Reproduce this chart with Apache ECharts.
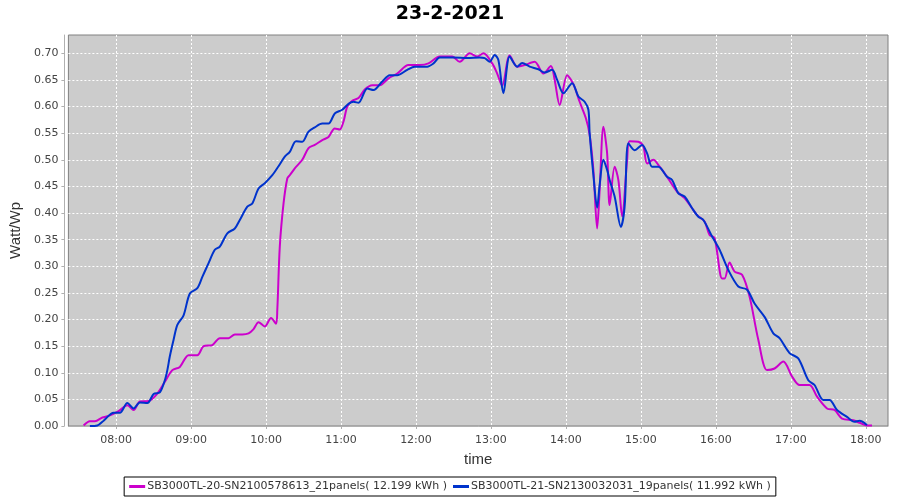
<!DOCTYPE html>
<html>
<head>
<meta charset="utf-8">
<script src="https://cdn.jsdelivr.net/npm/echarts@6/dist/echarts.min.js"></script>
<style>html,body{margin:0;padding:0;background:#fff}#c{width:900px;height:500px}</style>
</head>
<body>
<div id="c"></div>
<script>
const titleText = '23-2-2021';
const seriesNames = ['SB3000TL-20-SN2100578613_21panels( 12.199 kWh )', 'SB3000TL-21-SN2130032031_19panels( 11.992 kWh )'];
const xTickHours = [8, 9, 10, 11, 12, 13, 14, 15, 16, 17, 18];
const yTickValues = [0, 0.05, 0.10, 0.15, 0.20, 0.25, 0.30, 0.35, 0.40, 0.45, 0.50, 0.55, 0.60, 0.65, 0.70];

const timesA = ['7:34','7:39','7:43','7:49','7:54','8:02','8:09','8:14','8:19','8:26','8:33','8:39','8:45','8:51','8:58','9:05','9:10','9:17','9:23','9:30','9:35','9:41','9:46','9:50','9:54','9:59','10:04','10:08','10:09','10:11','10:14','10:17','10:19','10:23','10:29','10:34','10:39','10:45','10:50','10:55','10:59','11:02','11:05','11:09','11:14','11:19','11:25','11:31','11:38','11:45','11:54','12:03','12:10','12:19','12:29','12:35','12:43','12:49','12:54','13:01','13:05','13:09','13:15','13:21','13:27','13:35','13:42','13:48','13:51','13:55','14:01','14:06','14:11','14:16','14:19','14:22','14:25','14:27','14:30','14:33','14:35','14:39','14:42','14:45','14:49','14:51','14:58','15:02','15:05','15:10','15:15','15:21','15:29','15:35','15:41','15:45','15:51','15:55','15:59','16:05','16:07','16:11','16:15','16:21','16:27','16:34','16:41','16:47','16:54','17:01','17:07','17:15','17:21','17:29','17:35','17:41','17:50','17:55','18:01','18:05'];
const valuesA = [0.001,0.009,0.009,0.016,0.019,0.028,0.039,0.030,0.046,0.047,0.061,0.083,0.105,0.111,0.133,0.133,0.150,0.152,0.165,0.165,0.172,0.172,0.174,0.182,0.195,0.187,0.203,0.192,0.218,0.337,0.418,0.465,0.471,0.484,0.500,0.522,0.528,0.537,0.543,0.559,0.557,0.572,0.600,0.611,0.616,0.632,0.640,0.640,0.653,0.662,0.678,0.678,0.681,0.694,0.694,0.684,0.700,0.694,0.700,0.681,0.662,0.639,0.696,0.675,0.678,0.684,0.662,0.676,0.650,0.603,0.659,0.642,0.609,0.578,0.547,0.481,0.371,0.443,0.562,0.512,0.415,0.487,0.462,0.394,0.500,0.535,0.534,0.525,0.493,0.500,0.487,0.468,0.440,0.428,0.409,0.396,0.384,0.359,0.353,0.277,0.277,0.307,0.290,0.284,0.243,0.162,0.105,0.108,0.121,0.093,0.077,0.077,0.055,0.033,0.030,0.014,0.011,0.006,0.001,0.001];

const timesB = ['7:39','7:45','7:50','7:58','8:03','8:09','8:14','8:19','8:25','8:30','8:35','8:39','8:41','8:43','8:46','8:49','8:54','8:59','9:05','9:09','9:14','9:19','9:23','9:29','9:35','9:39','9:45','9:49','9:54','9:59','10:05','10:10','10:15','10:19','10:24','10:29','10:34','10:39','10:45','10:50','10:55','11:01','11:06','11:10','11:14','11:21','11:26','11:33','11:39','11:45','11:53','11:59','12:09','12:14','12:19','12:30','12:41','12:51','12:55','12:59','13:03','13:06','13:10','13:15','13:21','13:25','13:31','13:38','13:43','13:49','13:53','13:58','14:05','14:10','14:15','14:18','14:19','14:22','14:25','14:27','14:30','14:33','14:35','14:39','14:44','14:47','14:50','14:55','15:01','15:05','15:09','15:14','15:21','15:25','15:30','15:35','15:41','15:46','15:50','15:57','16:03','16:10','16:18','16:25','16:31','16:39','16:46','16:51','16:59','17:06','17:14','17:19','17:26','17:31','17:37','17:45','17:51','17:55','18:01'];
const valuesB = [0.000,0.001,0.010,0.025,0.025,0.043,0.033,0.044,0.043,0.060,0.063,0.086,0.105,0.131,0.162,0.190,0.208,0.249,0.259,0.280,0.306,0.331,0.337,0.362,0.371,0.387,0.412,0.418,0.446,0.456,0.471,0.488,0.506,0.515,0.535,0.534,0.553,0.561,0.568,0.568,0.587,0.594,0.605,0.609,0.607,0.634,0.631,0.647,0.659,0.659,0.669,0.675,0.675,0.681,0.692,0.692,0.691,0.692,0.691,0.684,0.697,0.687,0.625,0.694,0.675,0.682,0.675,0.670,0.664,0.669,0.650,0.625,0.644,0.619,0.609,0.594,0.550,0.471,0.410,0.453,0.500,0.481,0.462,0.431,0.374,0.412,0.531,0.518,0.528,0.512,0.487,0.487,0.468,0.462,0.437,0.431,0.409,0.393,0.387,0.356,0.331,0.293,0.262,0.256,0.230,0.205,0.174,0.165,0.137,0.127,0.086,0.077,0.049,0.049,0.030,0.017,0.008,0.010,0.002];

function toHours(t) { const p = t.split(':'); return +p[0] + (+p[1]) / 60; }
function pairs(ts, vs) { return ts.map((t, i) => [toHours(t), vs[i]]); }

const chart = echarts.init(document.getElementById('c'), null, { renderer: 'canvas' });
const tickFont = { fontFamily: 'DejaVu Sans', fontSize: 11, color: '#444444' };
chart.setOption({
  animation: false,
  backgroundColor: '#ffffff',
  title: {
    text: titleText, left: 'center', top: 5, padding: 0,
    textStyle: { fontFamily: 'DejaVu Sans', fontWeight: 'bold', fontSize: 19, color: '#000000' }
  },
  grid: {
    left: 68, right: 12, top: 35, bottom: 74,
    show: true, backgroundColor: '#cccccc', borderColor: '#808080', borderWidth: 1
  },
  legend: {
    left: 'center', top: 477,
    borderColor: '#000000', borderWidth: 1, padding: [4, 5],
    itemWidth: 16, itemHeight: 3, itemGap: 6, icon: 'rect',
    textStyle: { fontFamily: 'DejaVu Sans', fontSize: 11, color: '#333333', padding: [0, 0, 0, -3] },
    data: seriesNames
  },
  xAxis: {
    type: 'value', min: 7 + 21.8 / 60, max: 18 + 17.8 / 60,
    offset: 4,
    name: 'time', nameLocation: 'middle', nameGap: 22,
    nameTextStyle: { fontFamily: 'Liberation Sans', fontSize: 15, color: '#333333' },
    axisLine: { show: true, lineStyle: { color: '#b0b0b0', width: 1 } },
    axisTick: { show: true, length: 3, customValues: xTickHours, lineStyle: { color: '#b0b0b0' } },
    axisLabel: Object.assign({ margin: 5, customValues: xTickHours,
      formatter: v => (v < 10 ? '0' : '') + Math.round(v) + ':00' }, tickFont),
    splitLine: { show: true, lineStyle: { color: '#ffffff', type: [2, 2], width: 1 } }
  },
  yAxis: {
    type: 'value', min: 0, max: 0.7344,
    offset: 4,
    name: 'Watt/Wp', nameLocation: 'middle', nameGap: 33, nameRotate: 90,
    nameTextStyle: { fontFamily: 'Liberation Sans', fontSize: 15, color: '#333333' },
    axisLine: { show: true, lineStyle: { color: '#b0b0b0', width: 1 } },
    axisTick: { show: true, length: 3, customValues: yTickValues, lineStyle: { color: '#b0b0b0' } },
    axisLabel: Object.assign({ margin: 6, customValues: yTickValues,
      formatter: v => v.toFixed(2) }, tickFont),
    splitLine: { show: true, lineStyle: { color: '#ffffff', type: [2, 2], width: 1 } }
  },
  series: [
    { name: seriesNames[0], type: 'line', data: pairs(timesA, valuesA), smooth: 0.3,
      showSymbol: false, lineStyle: { color: '#cc00cc', width: 2 }, itemStyle: { color: '#cc00cc' } },
    { name: seriesNames[1], type: 'line', data: pairs(timesB, valuesB), smooth: 0.3,
      showSymbol: false, lineStyle: { color: '#0033cc', width: 2 }, itemStyle: { color: '#0033cc' } }
  ]
});
</script>
</body>
</html>
